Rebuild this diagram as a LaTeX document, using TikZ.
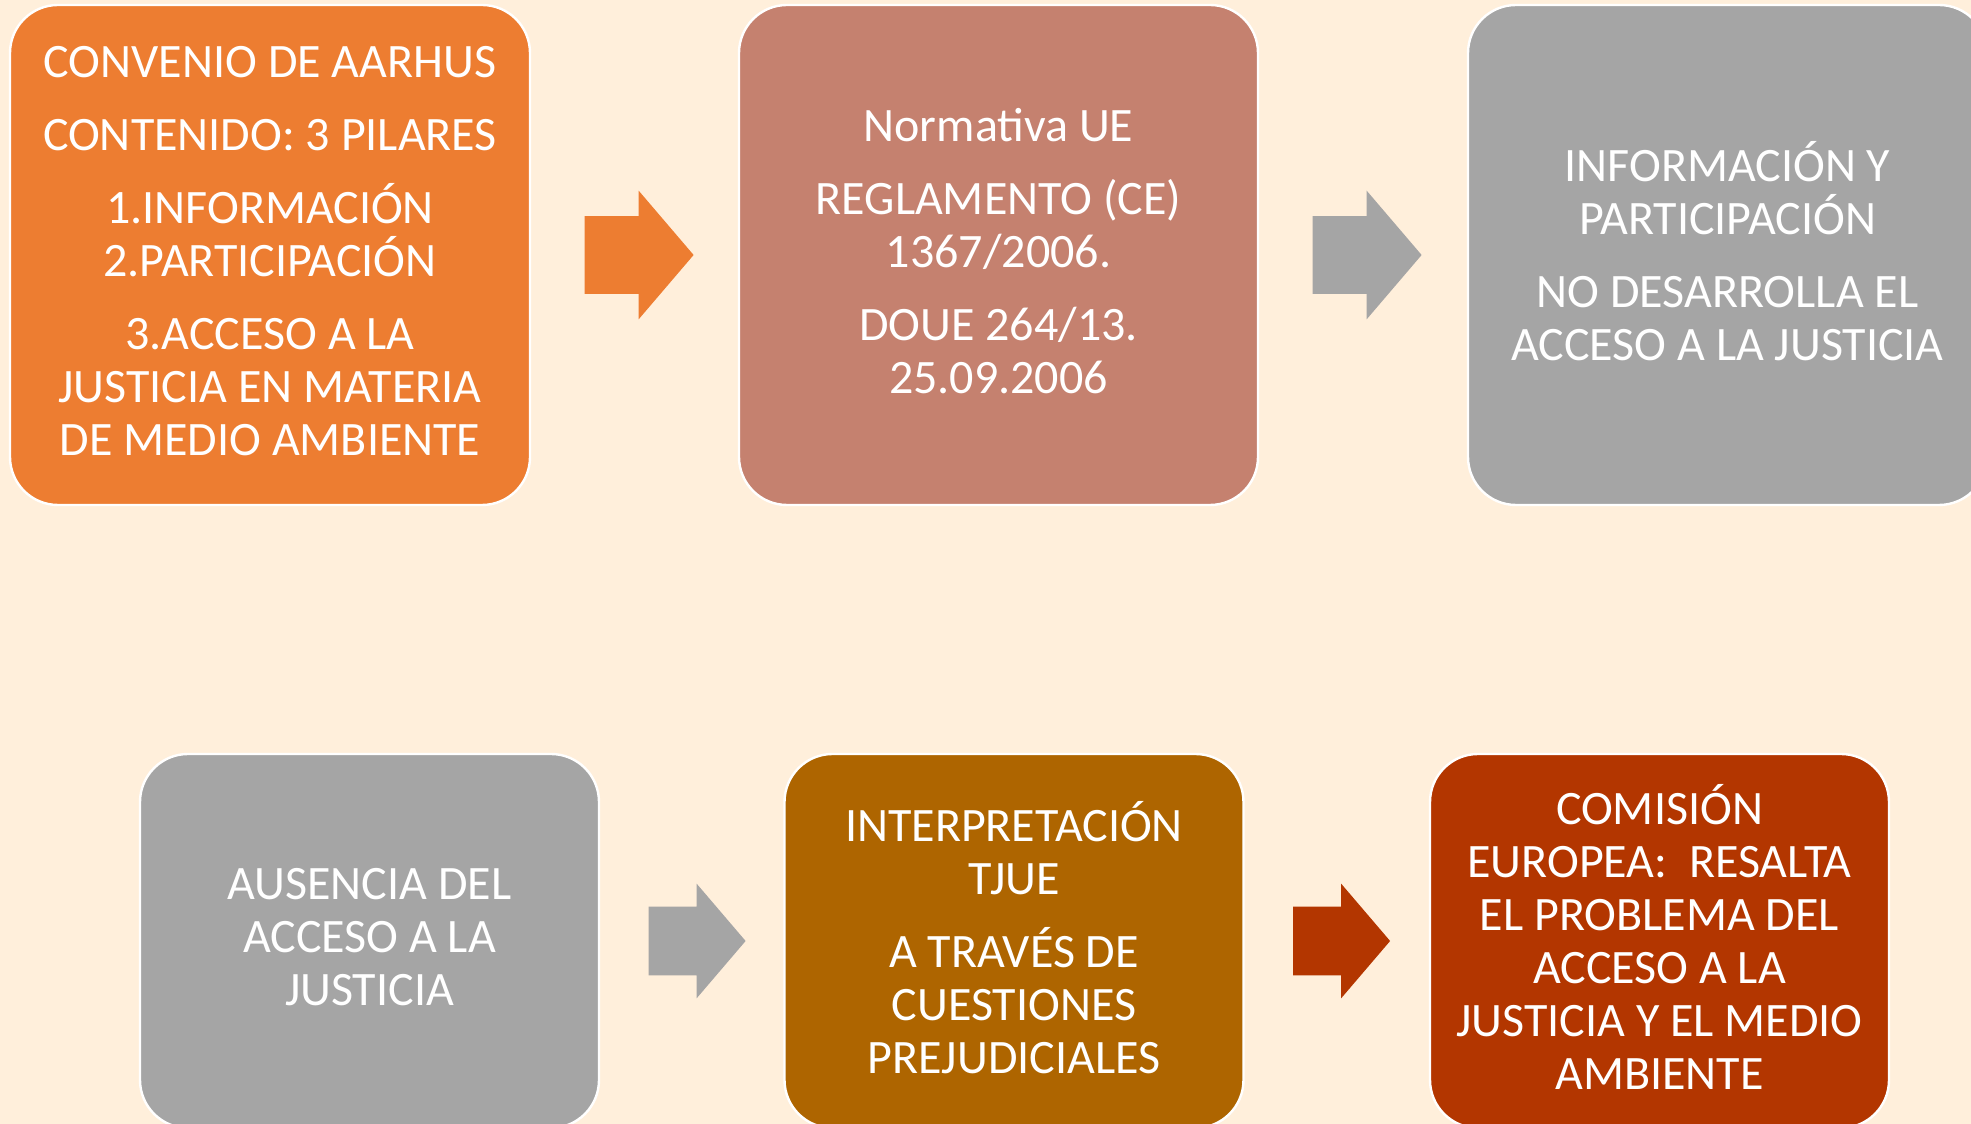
\documentclass[tikz,border=0pt]{standalone}
\usepackage{fontspec}
\setmainfont{Carlito}
\usepackage{tikz}
\usetikzlibrary{shapes.arrows, calc}

\definecolor{fondo}{HTML}{FFEFDB}
\definecolor{naranja}{HTML}{ED7D31}
\definecolor{rosado}{HTML}{C5816F}
\definecolor{gris}{HTML}{A5A5A5}
\definecolor{ocre}{HTML}{AE6500}
\definecolor{teja}{HTML}{B33600}

\begin{document}
\begin{tikzpicture}[
		x=0.5pt, y=0.5pt,
		caja/.style={rectangle, rounded corners=24pt, draw=white, line width=1.2pt,
			text=white, align=center, inner sep=0pt, text depth=4pt,
			font=\fontsize{24}{26.5}\selectfont},
		caja alta/.style={caja, minimum width=260pt, minimum height=250pt},
		caja baja/.style={caja, minimum width=229.5pt, minimum height=187pt},
		flecha/.style={single arrow, single arrow head indent=0pt,
			single arrow tip angle=99, inner xsep=0pt, anchor=tail},
		flecha alta/.style={flecha, minimum height=54.5pt, inner ysep=19.25pt,
			single arrow head extend=12.75pt, xshift=26.5pt},
		flecha baja/.style={flecha, minimum height=48.5pt, inner ysep=17pt,
			single arrow head extend=11.5pt, xshift=24pt}
		]
		
		\useasboundingbox (0,0) rectangle (1971,1124);
		\clip (0,0) rectangle (1971,1124);
		\fill[fondo] (0,0) rectangle (1971,1124);
		
		% Fila superior
		\node[caja alta, fill=naranja] (aarhus) at (270, 869)
			{CONVENIO DE AARHUS \\[10pt] CONTENIDO: 3 PILARES \\[10pt]
			 1.INFORMACIÓN \\ 2.PARTICIPACIÓN \\[10pt]
			 3.ACCESO A LA \\ JUSTICIA EN MATERIA \\ DE MEDIO AMBIENTE};
		\node[caja alta, fill=rosado, minimum width=259.5pt] (normativa) at (998.5, 869)
			{Normativa UE \\[10pt] REGLAMENTO (CE) \\ 1367/2006. \\[10pt]
			 DOUE 264/13. \\ 25.09.2006};
		\node[caja alta, fill=gris, minimum width=259.5pt] (infopart) at (1727.5, 869)
			{INFORMACIÓN Y \\ PARTICIPACIÓN \\[10pt]
			 NO DESARROLLA EL \\ ACCESO A LA JUSTICIA};
		
		% Fila inferior
		\node[caja baja, fill=gris] (ausencia) at (369.5, 183)
			{AUSENCIA DEL \\ ACCESO A LA \\ JUSTICIA};
		\node[caja baja, fill=ocre] (tjue) at (1014, 183)
			{INTERPRETACIÓN \\ TJUE \\[10pt] A TRAVÉS DE \\ CUESTIONES \\ PREJUDICIALES};
		\node[caja baja, fill=teja] (comision) at (1659.5, 183)
			{COMISIÓN \\ EUROPEA:~ RESALTA \\ EL PROBLEMA DEL \\ ACCESO A LA \\
			 JUSTICIA Y EL MEDIO \\ AMBIENTE};
		
		% Flechas
		\node[flecha alta, fill=naranja] (f1) at (aarhus.east) {};
		\node[flecha alta, fill=gris] (f2) at (normativa.east) {};
		\node[flecha baja, fill=gris] (f3) at (ausencia.east) {};
		\node[flecha baja, fill=teja] (f4) at (tjue.east) {};
		
	\end{tikzpicture}
\end{document}
